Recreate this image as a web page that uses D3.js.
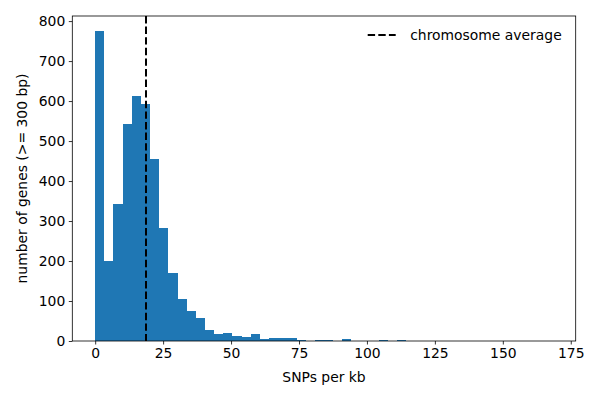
<!DOCTYPE html>
<html>
<head>
<meta charset="utf-8">
<script src="https://cdn.jsdelivr.net/npm/d3@7"></script>
<style>
  body { margin: 0; background: #fff; }
  text { font-family: "DejaVu Sans", sans-serif; fill: #000; }
</style>
</head>
<body>
<svg id="chart" width="600" height="400"></svg>
<script>
// histogram: 50 equal bins between binStart and binEnd (SNPs per kb)
const binStart = 0, binEnd = 168.4;
const counts = [774, 200, 343, 542, 612, 592, 455, 283, 170, 105,
                75, 58, 28, 18, 20, 13, 11, 18, 5, 8,
                8, 8, 3, 0, 2, 2, 0, 5, 0, 0,
                0, 2, 0, 2, 0, 0, 0, 0, 0, 0,
                0, 0, 0, 0, 0, 0, 0, 0, 0, 0];
const chromosomeAverage = 18.7;
const xTicks = [0, 25, 50, 75, 100, 125, 150, 175];
const yTicks = [0, 100, 200, 300, 400, 500, 600, 700, 800];

const margin = { top: 16, right: 24.3, bottom: 59, left: 72.3 },
      width = 600 - margin.left - margin.right,
      height = 400 - margin.top - margin.bottom;

const binWidth = (binEnd - binStart) / counts.length;
const bins = counts.map((c, i) => ({ x0: binStart + i * binWidth, x1: binStart + (i + 1) * binWidth, n: c }));

const pad = 0.05 * (binEnd - binStart);
const x = d3.scaleLinear().domain([binStart - pad, binEnd + pad]).range([0, width]);
const y = d3.scaleLinear().domain([0, 774 * 1.05]).range([height, 0]);

const svg = d3.select("#chart")
  .append("g")
  .attr("transform", `translate(${margin.left},${margin.top})`);

svg.selectAll("rect.bar")
  .data(bins.filter(d => d.n > 0))
  .enter().append("rect")
  .attr("class", "bar")
  .attr("x", d => x(d.x0))
  .attr("width", d => x(d.x1) - x(d.x0))
  .attr("y", d => y(d.n))
  .attr("height", d => y(0) - y(d.n))
  .attr("fill", "#1f77b4")
  .attr("shape-rendering", "crispEdges");

// dashed mean line
svg.append("line")
  .attr("x1", x(chromosomeAverage)).attr("x2", x(chromosomeAverage))
  .attr("y1", 0).attr("y2", height)
  .attr("stroke", "#000")
  .attr("stroke-width", 2)
  .attr("stroke-dasharray", "7.4,3.2");

// axes
const xAxis = svg.append("g")
  .attr("transform", `translate(0,${height})`)
  .call(d3.axisBottom(x).tickValues(xTicks).tickSize(3.5).tickPadding(3.5));
const yAxis = svg.append("g")
  .call(d3.axisLeft(y).tickValues(yTicks).tickSize(3.5).tickPadding(3.5));

[xAxis, yAxis].forEach(a => {
  a.select(".domain").remove();
  a.selectAll("line").attr("stroke", "#000").attr("stroke-width", 0.8);
  a.selectAll("text").style("font-size", "13.9px").style("font-family", "DejaVu Sans");
});

// frame
svg.append("rect")
  .attr("width", width).attr("height", height)
  .attr("fill", "none").attr("stroke", "#000").attr("stroke-width", 0.8);

svg.append("text")
  .attr("x", width / 2).attr("y", height + 41)
  .attr("text-anchor", "middle")
  .style("font-size", "13.9px")
  .text("SNPs per kb");

svg.append("text")
  .attr("transform", `translate(${22 - margin.left},${height / 2}) rotate(-90)`)
  .attr("text-anchor", "middle")
  .attr("dy", "0.35em")
  .style("font-size", "13.9px")
  .text("number of genes (>= 300 bp)");

// legend
const legend = svg.append("g").attr("transform", `translate(${width - 208},19)`);
legend.append("line")
  .attr("x1", 0).attr("x2", 28).attr("y1", 0).attr("y2", 0)
  .attr("stroke", "#000").attr("stroke-width", 2)
  .attr("stroke-dasharray", "7.4,3.2");
legend.append("text")
  .attr("x", 194).attr("y", 0).attr("dy", "0.35em")
  .attr("text-anchor", "end")
  .style("font-size", "13.9px")
  .text("chromosome average");
</script>
</body>
</html>
